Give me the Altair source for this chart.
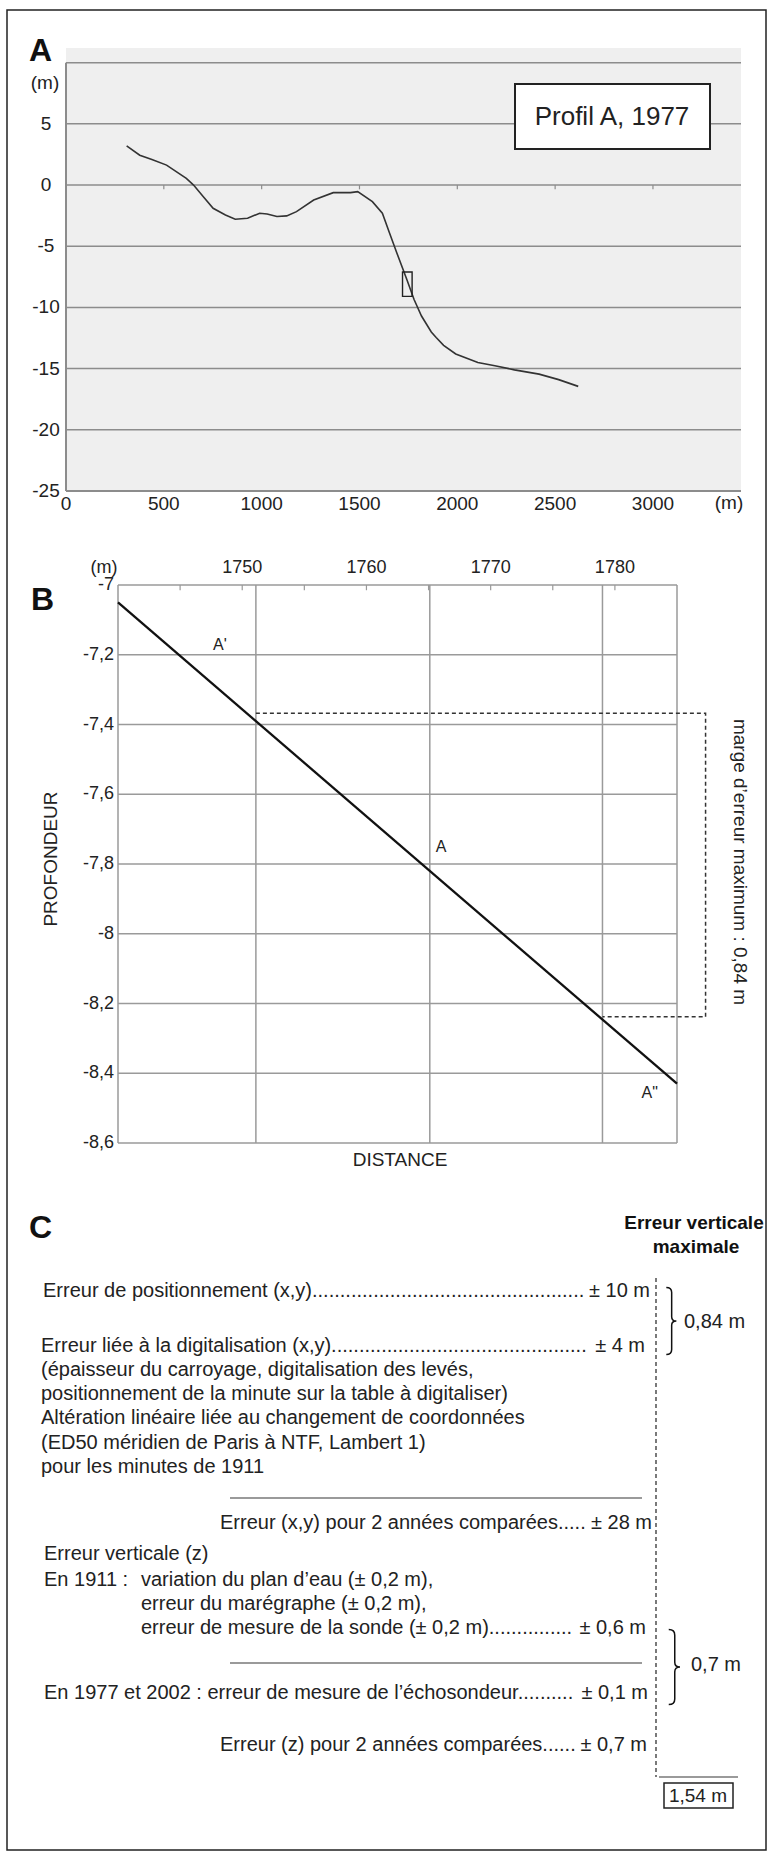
import altair as alt
import pandas as pd

FONT = "Liberation Sans, Arial, Helvetica, sans-serif"
INK = "#222222"

# ---------------- Panel A : Profil A, 1977 ----------------
a_dist = [310, 377, 439, 514, 615, 652, 702, 752, 815, 865, 928, 990, 1028, 1078,
          1128, 1178, 1266, 1366, 1454, 1491, 1566, 1617, 1654, 1691, 1742, 1779,
          1817, 1867, 1892, 1930, 1992, 2105, 2192, 2292, 2418, 2518, 2618]
a_depth = [3.2, 2.44, 2.09, 1.63, 0.54, 0.0, -0.95, -1.9, -2.44, -2.79, -2.71, -2.3,
           -2.36, -2.57, -2.52, -2.17, -1.22, -0.62, -0.62, -0.54, -1.36, -2.3, -3.93,
           -5.55, -7.72, -9.35, -10.7, -12.0, -12.46, -13.1, -13.8, -14.5, -14.77,
           -15.1, -15.45, -15.9, -16.45]
a_xticks = [0, 500, 1000, 1500, 2000, 2500, 3000]
a_ylabels = [5, 0, -5, -10, -15, -20, -25]
a_grid = [10, 5, 0, -5, -10, -15, -20]
a_minor = [500, 1000, 1500, 2000, 2500, 3000]
a_zoom_x = [1720, 1769]
a_zoom_y = [-7.1, -9.1]
a_xdom = [0, 3450]
a_ydom = [-25, 11.2]

# ---------------- Panel B : zoom ----------------
b_line_x = [1740, 1785]
b_line_y = [-7.05, -8.43]
b_yticks = [-7.0, -7.2, -7.4, -7.6, -7.8, -8.0, -8.2, -8.4, -8.6]
b_xticks = [1750, 1760, 1770, 1780]
b_minor = [1745, 1750, 1755, 1760, 1765, 1770, 1775, 1780]
b_vgrid = [1740, 1751.1, 1765.1, 1779.0, 1785]
b_margin_x = [1751.1, 1787.3, 1787.3, 1779.0]
b_margin_y = [-7.368, -7.368, -8.238, -8.238]
b_pts = ["A'", "A", 'A"']
b_pts_x = [1748.2, 1766.0, 1782.8]
b_pts_y = [-7.172, -7.751, -8.457]
b_xdom = [1740, 1785]
b_ydom = [-8.6, -7.0]

# ---------------- Panel C : error budget (text) ----------------
c_rows = [
    "Erreur de positionnement (x,y)" + "." * 49,
    "Erreur liée à la digitalisation (x,y)" + "." * 46,
    "(épaisseur du carroyage, digitalisation des levés,",
    "positionnement de la minute sur la table à digitaliser)",
    "Altération linéaire liée au changement de coordonnées",
    "(ED50 méridien de Paris à NTF, Lambert 1)",
    "pour les minutes de 1911",
    "Erreur (x,y) pour 2 années comparées" + "." * 5,
    "Erreur verticale (z)",
    "En 1911 :",
    "variation du plan d’eau (± 0,2 m),",
    "erreur du marégraphe (± 0,2 m),",
    "erreur de mesure de la sonde (± 0,2 m)" + "." * 15,
    "En 1977 et 2002 : erreur de mesure de l’échosondeur" + "." * 10,
    "Erreur (z) pour 2 années comparées" + "." * 6,
    "0,84 m",
    "0,7 m",
]
c_rows_x = [43, 41, 41, 41, 41, 41, 41, 220, 44, 44, 141, 141, 141, 44, 220, 684, 691]
c_rows_y = [1291, 1346, 1370, 1394, 1418, 1443, 1467, 1523, 1554, 1580, 1580, 1604,
            1628, 1693, 1745, 1322, 1665]
c_vals = ["± 10 m", "± 4 m", "± 28 m", "± 0,6 m", "± 0,1 m", "± 0,7 m"]
c_vals_x = [650, 645, 652, 646, 648, 647]
c_vals_y = [1291, 1346, 1523, 1628, 1693, 1745]

# ---------------- scales ----------------
AX = alt.Scale(domain=a_xdom, range=[66, 741], nice=False, zero=False)
AY = alt.Scale(domain=a_ydom, range=[491, 48], nice=False, zero=False)
BX = alt.Scale(domain=b_xdom, range=[118, 677], nice=False, zero=False)
BY = alt.Scale(domain=b_ydom, range=[1143, 585], nice=False, zero=False)
PX = alt.Scale(domain=[0, 768], range=[0, 768], nice=False, zero=False)
PY = alt.Scale(domain=[0, 1854], range=[0, 1854], nice=False, zero=False)


def enc(scale_x, scale_y, x, y, **kw):
    e = dict(x=alt.X(f"{x}:Q", scale=scale_x, axis=None),
             y=alt.Y(f"{y}:Q", scale=scale_y, axis=None))
    e.update(kw)
    return e


# ---------- Panel A layers ----------
a_bg = alt.Chart(pd.DataFrame({"x0": [a_xdom[0]], "x1": [a_xdom[1]],
                               "y0": [a_ydom[0]], "y1": [a_ydom[1]]})).mark_rect(
    color="#efefef").encode(**enc(AX, AY, "x0", "y0", x2="x1", y2="y1"))

a_gridl = alt.Chart(pd.DataFrame({"y": a_grid, "x0": a_xdom[0], "x1": a_xdom[1]})).mark_rule(
    color="#8c8c8c", strokeWidth=1.5).encode(**enc(AX, AY, "x0", "y", x2="x1"))

a_axes = alt.Chart(pd.DataFrame({"x0": [0, 0], "x1": [a_xdom[1], 0],
                                 "y0": [-25, -25], "y1": [-25, 10]})).mark_rule(
    color="#8c8c8c", strokeWidth=2).encode(**enc(AX, AY, "x0", "y0", x2="x1", y2="y1"))

a_ticks = alt.Chart(pd.DataFrame({"x": a_minor, "y0": 0, "y1": -0.35})).mark_rule(
    color="#8c8c8c", strokeWidth=1.2).encode(**enc(AX, AY, "x", "y0", y2="y1"))

a_line = alt.Chart(pd.DataFrame({"x": a_dist, "y": a_depth})).mark_line(
    color="#333333", strokeWidth=1.6).encode(**enc(AX, AY, "x", "y"))

a_zoom = alt.Chart(pd.DataFrame({"x0": [a_zoom_x[0]], "x1": [a_zoom_x[1]],
                                 "y0": [a_zoom_y[0]], "y1": [a_zoom_y[1]]})).mark_rect(
    fillOpacity=0, stroke="#222", strokeWidth=1.4).encode(
    **enc(AX, AY, "x0", "y0", x2="x1", y2="y1"))

a_xlab = alt.Chart(pd.DataFrame({"x": a_xticks, "y": -25,
                                 "t": [str(v) for v in a_xticks]})).mark_text(
    font=FONT, fontSize=19, color=INK, dy=13, baseline="middle").encode(
    **enc(AX, AY, "x", "y", text="t:N"))

a_ylab = alt.Chart(pd.DataFrame({"x": 0, "y": a_ylabels,
                                 "t": [str(v) for v in a_ylabels]})).mark_text(
    font=FONT, fontSize=19, color=INK, dx=-20, baseline="middle", align="center").encode(
    **enc(AX, AY, "x", "y", text="t:N"))

panel_a = alt.layer(a_bg, a_gridl, a_axes, a_ticks, a_line, a_zoom, a_xlab, a_ylab)

# ---------- Panel B layers ----------
b_hgrid = alt.Chart(pd.DataFrame({"y": b_yticks, "x0": b_xdom[0], "x1": b_xdom[1]})).mark_rule(
    color="#9a9a9a", strokeWidth=1.5).encode(**enc(BX, BY, "x0", "y", x2="x1"))

b_vgridl = alt.Chart(pd.DataFrame({"x": b_vgrid, "y0": b_ydom[0], "y1": b_ydom[1]})).mark_rule(
    color="#9a9a9a", strokeWidth=1.5).encode(**enc(BX, BY, "x", "y0", y2="y1"))

b_ticks = alt.Chart(pd.DataFrame({"x": b_minor, "y0": -7.0, "y1": -7.015})).mark_rule(
    color="#9a9a9a", strokeWidth=1.2).encode(**enc(BX, BY, "x", "y0", y2="y1"))

b_line = alt.Chart(pd.DataFrame({"x": b_line_x, "y": b_line_y})).mark_line(
    color="#111", strokeWidth=2.3).encode(**enc(BX, BY, "x", "y"))

b_margin = alt.Chart(pd.DataFrame({"x": b_margin_x, "y": b_margin_y,
                                   "i": list(range(len(b_margin_x)))})).mark_line(
    color="#333", strokeWidth=1.5, strokeDash=[4, 3]).encode(
    **enc(BX, BY, "x", "y", order=alt.Order("i:Q")))

b_ptlab = alt.Chart(pd.DataFrame({"x": b_pts_x, "y": b_pts_y, "t": b_pts})).mark_text(
    font=FONT, fontSize=16, color=INK, baseline="middle").encode(
    **enc(BX, BY, "x", "y", text="t:N"))

b_ylab = alt.Chart(pd.DataFrame({"x": b_xdom[0], "y": b_yticks,
                                 "t": [f"{v:g}".replace(".", ",") for v in b_yticks]})).mark_text(
    font=FONT, fontSize=18, color=INK, dx=-4, align="right", baseline="middle").encode(
    **enc(BX, BY, "x", "y", text="t:N"))

b_xlab = alt.Chart(pd.DataFrame({"x": b_xticks, "y": -7.0,
                                 "t": [str(v) for v in b_xticks]})).mark_text(
    font=FONT, fontSize=18, color=INK, dy=-17, baseline="middle").encode(
    **enc(BX, BY, "x", "y", text="t:N"))

panel_b = alt.layer(b_hgrid, b_vgridl, b_ticks, b_line, b_margin, b_ptlab, b_ylab, b_xlab)

# ---------- Page layer (frame, annotations, panel C) ----------
frame = alt.Chart(pd.DataFrame({"x0": [7, 515, 664], "x1": [766, 710, 733],
                                "y0": [10, 84, 1783], "y1": [1850, 149, 1808],
                                "w": [1.5, 2.0, 1.5], "f": [0, 1, 0]})).mark_rect(
    fill="white", stroke="#222").encode(
    **enc(PX, PY, "x0", "y0", x2="x1", y2="y1",
          strokeWidth=alt.StrokeWidth("w:Q", scale=None),
          fillOpacity=alt.FillOpacity("f:Q", scale=None)))

c_rules = alt.Chart(pd.DataFrame({"x0": [230, 230, 659], "x1": [642, 642, 738],
                                  "y": [1498, 1663, 1777]})).mark_rule(
    color="#9a9a9a", strokeWidth=2).encode(**enc(PX, PY, "x0", "y", x2="x1"))

c_dotted = alt.Chart(pd.DataFrame({"x": [656], "y0": [1278], "y1": [1777]})).mark_rule(
    color="#333", strokeWidth=1.3, strokeDash=[4, 3]).encode(
    **enc(PX, PY, "x", "y0", y2="y1"))

BRACE = ("M-0.14,-1 Q0.02,-1 0.02,-0.85 L0.02,-0.13 Q0.02,0 0.16,0 "
         "Q0.02,0 0.02,0.13 L0.02,0.85 Q0.02,1 -0.14,1")
brace_x = [671, 674]
brace_y = [1321, 1667]
brace_h = [67, 75]
c_braces = alt.Chart(pd.DataFrame({"x": brace_x, "y": brace_y,
                                   "s": [h * h for h in brace_h]})).mark_point(
    shape=BRACE, filled=False, color="#111", strokeWidth=1.5, opacity=1).encode(
    **enc(PX, PY, "x", "y", size=alt.Size("s:Q", scale=None)))

c_left = alt.Chart(pd.DataFrame({"x": c_rows_x, "y": c_rows_y, "t": c_rows})).mark_text(
    font=FONT, fontSize=20, color=INK, align="left", baseline="middle").encode(
    **enc(PX, PY, "x", "y", text="t:N"))

c_right = alt.Chart(pd.DataFrame({"x": c_vals_x, "y": c_vals_y, "t": c_vals})).mark_text(
    font=FONT, fontSize=20, color=INK, align="right", baseline="middle").encode(
    **enc(PX, PY, "x", "y", text="t:N"))

ann_t = ["(m)", "(m)", "(m)", "PROFONDEUR", "DISTANCE",
         "marge d’erreur maximum : 0,84 m", "Profil A, 1977", "1,54 m"]
ann_x = [45, 729, 104, 51, 400, 740, 612, 698]
ann_y = [83, 503, 568, 859, 1160, 862, 117, 1796]
ann_s = [19, 19, 18, 19, 19, 19, 26, 19]
ann_a = [0, 0, 0, 270, 0, 90, 0, 0]
annot = alt.Chart(pd.DataFrame({"x": ann_x, "y": ann_y, "t": ann_t, "s": ann_s,
                                "a": ann_a})).mark_text(
    font=FONT, color=INK, align="center", baseline="middle").encode(
    **enc(PX, PY, "x", "y", text="t:N", size=alt.Size("s:Q", scale=None),
          angle=alt.Angle("a:Q", scale=None)))

bold_l = alt.Chart(pd.DataFrame({"x": [29, 31, 29], "y": [51, 600, 1228],
                                 "t": ["A", "B", "C"]})).mark_text(
    font=FONT, fontSize=32, fontWeight="bold", color="#111", align="left",
    baseline="middle").encode(**enc(PX, PY, "x", "y", text="t:N"))

bold_c = alt.Chart(pd.DataFrame({"x": [694, 696], "y": [1223, 1247],
                                 "t": ["Erreur verticale", "maximale"]})).mark_text(
    font=FONT, fontSize=19, fontWeight="bold", color="#111", align="center",
    baseline="middle").encode(**enc(PX, PY, "x", "y", text="t:N"))

page = alt.layer(frame, c_rules, c_dotted, c_braces, c_left, c_right, annot, bold_l, bold_c)

chart = alt.layer(panel_a, panel_b, page).resolve_scale(
    x="independent", y="independent", size="independent"
).properties(
    width=768, height=1854, padding=0,
    autosize=alt.AutoSizeParams(type="none"), background="white"
).configure_view(stroke=None)

chart.save("out.html", embed_options={"renderer": "svg", "actions": False})
